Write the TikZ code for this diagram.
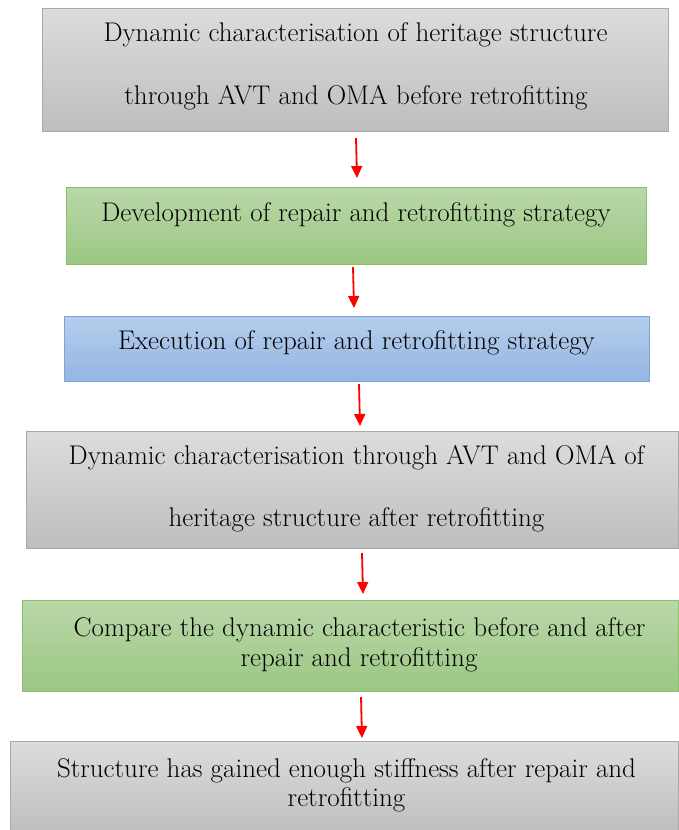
\documentclass[tikz,border=0pt]{standalone}
\usetikzlibrary{arrows.meta}
\definecolor{gtop}{HTML}{DCDCDC}
\definecolor{gbot}{HTML}{BEBEBE}
\definecolor{gline}{HTML}{A9A9A9}
\definecolor{ntop}{HTML}{B9D8A9}
\definecolor{nbot}{HTML}{9BC783}
\definecolor{nline}{HTML}{8CBE6C}
\definecolor{btop}{HTML}{B5CDEC}
\definecolor{bbot}{HTML}{94B6E2}
\definecolor{bline}{HTML}{7BA5DB}
\tikzset{
  box/.style={rectangle, inner sep=0pt, line width=1pt, anchor=north west},
  graybox/.style={box, draw=gline, top color=gtop, bottom color=gbot},
  greenbox/.style={box, draw=nline, top color=ntop, bottom color=nbot},
  bluebox/.style={box, draw=bline, top color=btop, bottom color=bbot},
  txt/.style={anchor=base, inner sep=0pt, font=\fontsize{27}{32}\selectfont},
  arr/.style={draw=red, line width=1.8pt, -{Triangle[length=12pt,width=11pt]}}
}
\begin{document}
\begin{tikzpicture}[x=1pt,y=-1pt]
\useasboundingbox (0,0) rectangle (678,830);
\node[graybox, minimum width=626pt, minimum height=123pt] (b1) at (42,8) {};
\node[txt] (t1a) at (355.5,41) {Dynamic characterisation of heritage structure};
\node[txt] (t1b) at (356,104) {through AVT and OMA before retrofitting};

\node[greenbox, minimum width=580pt, minimum height=77pt] (b2) at (66,187) {};
\node[txt] (t2) at (356,221) {Development of repair and retrofitting strategy};

\node[bluebox, minimum width=585pt, minimum height=65pt] (b3) at (64,316) {};
\node[txt] (t3) at (356.5,349) {Execution of repair and retrofitting strategy};

\node[graybox, minimum width=652pt, minimum height=117pt] (b4) at (26,431) {};
\node[txt] (t4a) at (356.5,464) {Dynamic characterisation through AVT and OMA of};
\node[txt] (t4b) at (356.5,526) {heritage structure after retrofitting};

\node[greenbox, minimum width=656pt, minimum height=91pt] (b5) at (22,600) {};
\node[txt] (t5a) at (359.5,636) {Compare the dynamic characteristic before and after};
\node[txt] (t5b) at (359,666) {repair and retrofitting};

\node[graybox, minimum width=668pt, minimum height=92pt] (b6) at (10,741) {};
\node[txt] (t6a) at (346.5,777) {Structure has gained enough stiffness after repair and};
\node[txt] (t6b) at (346.5,806) {retrofitting};

\coordinate (a1s) at (356,138); \coordinate (a1e) at (357,178);
\coordinate (a2s) at (353,267); \coordinate (a2e) at (354,308);
\coordinate (a3s) at (359,384); \coordinate (a3e) at (360,426);
\coordinate (a4s) at (362,553); \coordinate (a4e) at (363,594);
\coordinate (a5s) at (361,697); \coordinate (a5e) at (362,738);
\draw[arr] (a1s) -- (a1e);
\draw[arr] (a2s) -- (a2e);
\draw[arr] (a3s) -- (a3e);
\draw[arr] (a4s) -- (a4e);
\draw[arr] (a5s) -- (a5e);
\end{tikzpicture}
\end{document}
